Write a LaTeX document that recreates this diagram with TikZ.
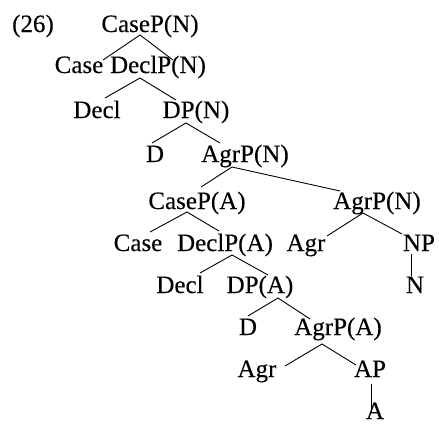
\documentclass[tikz,border=0pt]{standalone}
\usepackage{fontspec}
\setmainfont[FakeBold=0.2]{Liberation Serif}
\usetikzlibrary{calc}
\begin{document}
\begin{tikzpicture}[x=1pt,y=-1pt,
  lab/.style={anchor=base,inner sep=0pt,font=\fontsize{25}{30}\selectfont},
  edge/.style={line width=0.9pt}]
\useasboundingbox[fill=white] (0,0) rectangle (439,424);
% example number
\node[lab] (num) at (33,32) {(26)};
% tree labels, row by row
\node[lab] (CasePN)  at (150,32)  {CaseP(N)};
\node[lab] (CaseA)   at (79,73)   {Case};
\node[lab] (DeclPN)  at (158,73)  {DeclP(N)};
\node[lab] (DeclA)   at (97,118)  {Decl};
\node[lab] (DPN)     at (196,118) {DP(N)};
\node[lab] (DA)      at (155,162) {D};
\node[lab] (AgrPN)   at (245,162) {AgrP(N)};
\node[lab] (CasePA)  at (197,209) {CaseP(A)};
\node[lab] (AgrPNb)  at (377,209) {AgrP(N)};
\node[lab] (CaseB)   at (138,251) {Case};
\node[lab] (DeclPA)  at (225,251) {DeclP(A)};
\node[lab] (AgrA)    at (306,251) {Agr};
\node[lab] (NP)      at (419,251) {NP};
\node[lab] (N)       at (415,293) {N};
\node[lab] (DeclB)   at (180,293) {Decl};
\node[lab] (DPA)     at (260,293) {DP(A)};
\node[lab] (DB)      at (248,335) {D};
\node[lab] (AgrPA)   at (338,335) {AgrP(A)};
\node[lab] (AgrB)    at (257,377) {Agr};
\node[lab] (AP)      at (370,377) {AP};
\node[lab] (A)       at (375,419) {A};
% branches
\draw[edge] ($(CaseA.base)+(24,-13)$) -- ($(CasePN.base)+(-10,3)$) -- ($(DeclPN.base)+(15,-13)$);
\draw[edge] ($(DeclA.base)+(8,-20)$) -- ($(DeclPN.base)+(-18,5)$) -- ($(DPN.base)+(-20,-18)$);
\draw[edge] ($(DA.base)+(-3,-19)$) -- ($(DPN.base)+(-10,5)$) -- ($(AgrPN.base)+(-25,-19)$);
\draw[edge] ($(CasePA.base)+(4,-22)$) -- ($(AgrPN.base)+(-13,5)$) -- ($(AgrPNb.base)+(-37,-18)$);
\draw[edge] ($(CaseB.base)+(12,-19)$) -- ($(CasePA.base)+(-10,3)$) -- ($(DeclPA.base)+(-6,-20)$);
\draw[edge] ($(AgrA.base)+(21,-15)$) -- ($(AgrPNb.base)+(-14,4)$) -- ($(NP.base)+(-17,-17)$);
\draw[edge] ($(NP.base)+(-8,3)$) -- ($(N.base)+(-4,-17)$);
\draw[edge] ($(DeclB.base)+(20,-20)$) -- ($(DeclPA.base)+(7,4)$) -- ($(DPA.base)+(8,-18)$);
\draw[edge] ($(DB.base)+(0,-19)$) -- ($(DPA.base)+(18,5)$) -- ($(AgrPA.base)+(-28,-16)$);
\draw[edge] ($(AgrB.base)+(28,-11)$) -- ($(AgrPA.base)+(-16,9)$) -- ($(AP.base)+(-14,-12)$);
\draw[edge] ($(AP.base)+(1,7)$) -- ($(A.base)+(-4,-7)$);
\end{tikzpicture}
\end{document}
